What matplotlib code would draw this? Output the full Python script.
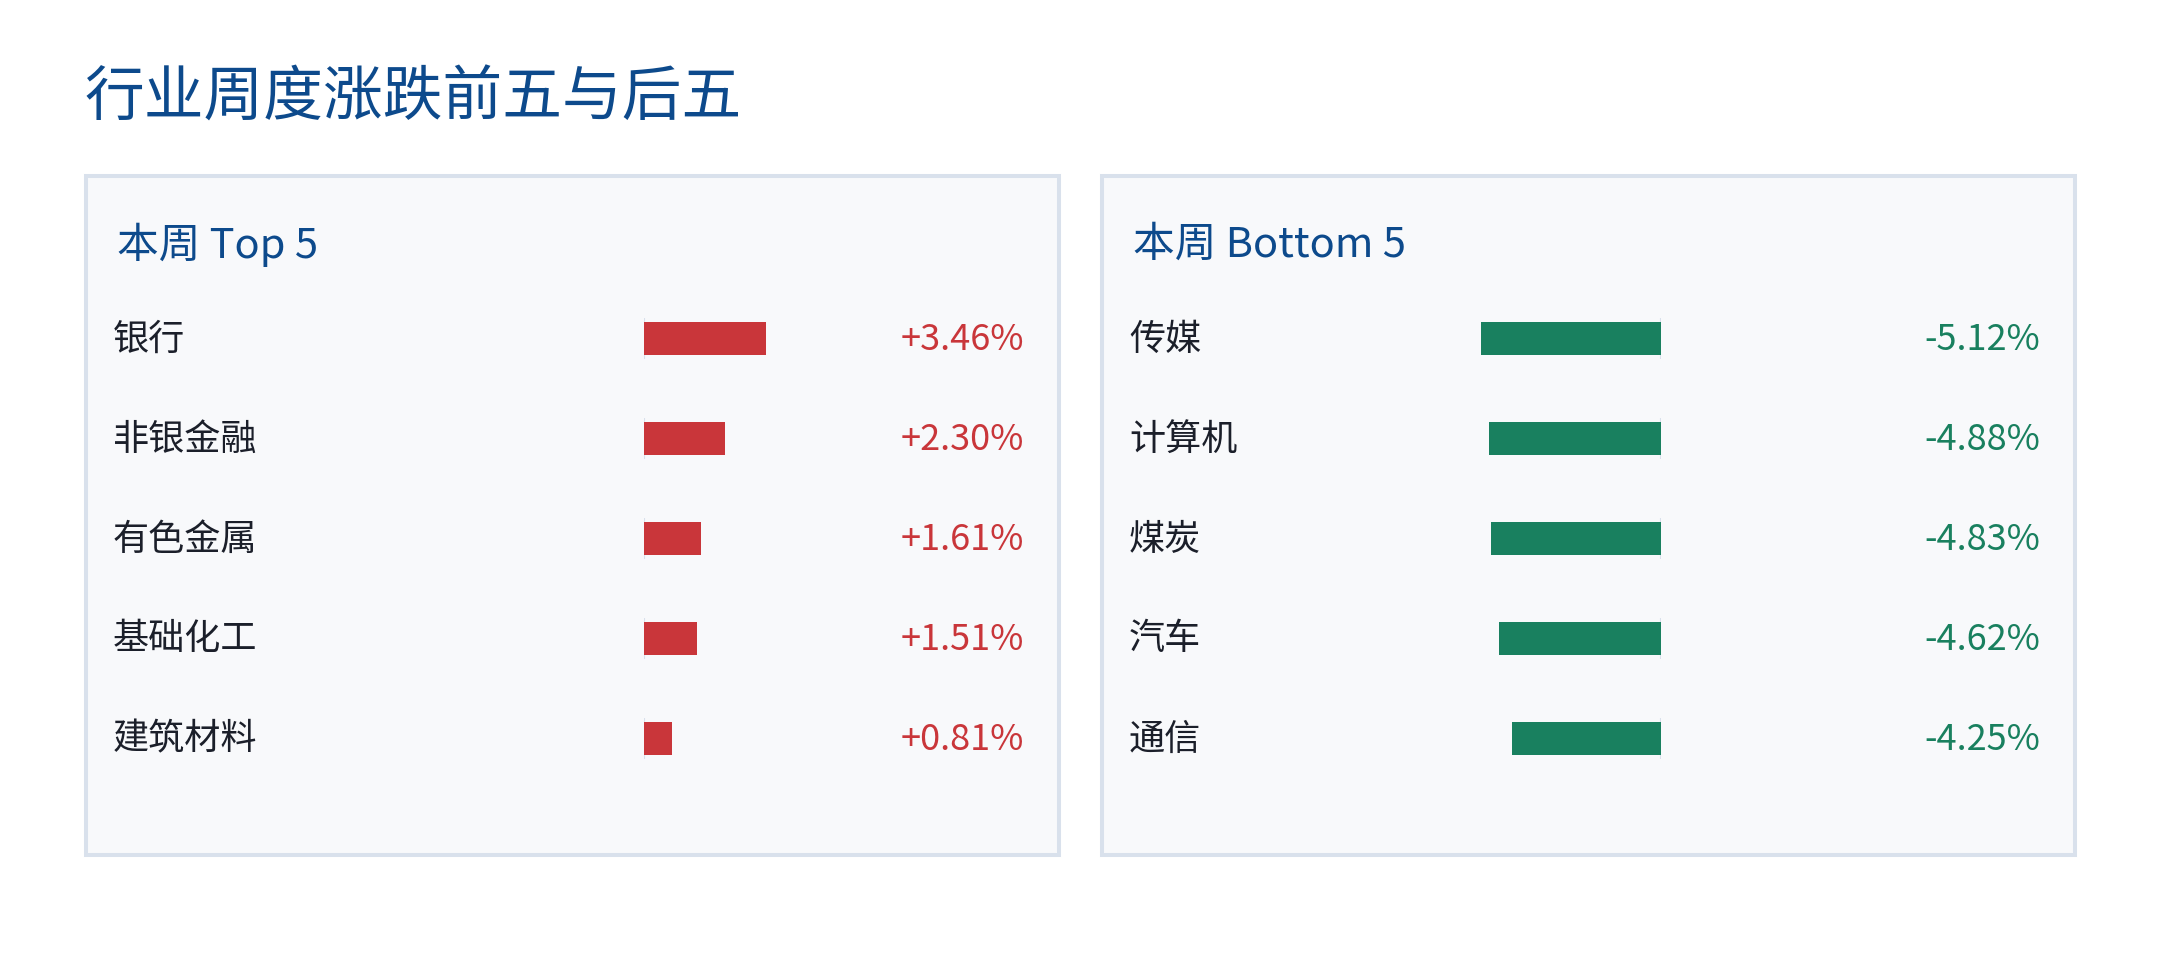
import matplotlib
matplotlib.use("Agg")
import matplotlib.pyplot as plt
from matplotlib.patches import Rectangle
from matplotlib.transforms import blended_transform_factory

plt.rcParams['font.family'] = ['Noto Sans CJK SC', 'DejaVu Sans']

# data
top_names = ['银行', '非银金融', '有色金属', '基础化工', '建筑材料']
top_values = [3.46, 2.30, 1.61, 1.51, 0.81]
bottom_names = ['传媒', '计算机', '煤炭', '汽车', '通信']
bottom_values = [-5.12, -4.88, -4.83, -4.62, -4.25]

title = '行业周度涨跌前五与后五'
panel_titles = ['本周 Top 5', '本周 Bottom 5']

BLUE = '#0d4a8c'
RED = '#c9363a'
GREEN = '#19805f'
INK = '#1b1f2a'
BORDER = '#d9e1ec'
PANEL_BG = '#f8f9fb'

W, H = 2160, 960
fig = plt.figure(figsize=(W / 100, H / 100), dpi=100)
fig.patch.set_facecolor('white')


def fx(px):
    return px / W


def fy(py):
    return 1 - py / H


fig.text(fx(84), fy(99), title, fontsize=43, color=BLUE, va='center', ha='left')

# scale shared by both panels (px per 1%)
max_abs = max(abs(v) for v in top_values + bottom_values)
bar_px = 180
row_h = 100
first_row = 338.5
n = len(top_values)

panels = [
    dict(x0=84, names=top_names, values=top_values, color=RED, zero=644, fmt='+{:.2f}%'),
    dict(x0=1100, names=bottom_names, values=bottom_values, color=GREEN, zero=1661, fmt='{:.2f}%'),
]

for k, p in enumerate(panels):
    x0 = p['x0']
    # panel box, kept under the bar axes
    fig.patches.append(Rectangle((fx(x0 + 2), fy(855)), fx(973), 679 / H,
                                 transform=fig.transFigure, facecolor=PANEL_BG,
                                 edgecolor=BORDER, linewidth=2.9, zorder=-5))
    fig.text(fx(x0 + 33), fy(245), panel_titles[k], fontsize=30, color=BLUE,
             va='center', ha='left')

    top_px = first_row - row_h / 2
    if p['values'][0] >= 0:
        left_px = p['zero']
        xlim = (0, max_abs)
    else:
        left_px = p['zero'] - bar_px
        xlim = (-max_abs, 0)
    ax = fig.add_axes([fx(left_px), fy(top_px + n * row_h), bar_px / W, n * row_h / H])
    ax.set_xlim(*xlim)
    ax.set_ylim(n - 0.5, -0.5)
    ax.axis('off')
    ax.patch.set_alpha(0)

    ys = list(range(n))
    ax.barh(ys, p['values'], height=0.33, color=p['color'], zorder=3)
    ax.vlines([0] * n, [y - 0.205 for y in ys], [y + 0.205 for y in ys],
              color=BORDER, linewidth=1.5, zorder=2)

    tr = blended_transform_factory(fig.transFigure, ax.transData)
    for y, name, v in zip(ys, p['names'], p['values']):
        ax.text(fx(x0 + 29), y + 0.01, name, transform=tr, fontsize=26, color=INK,
                va='center', ha='left', clip_on=False)
        ax.text(fx(x0 + 940), y + 0.01, p['fmt'].format(v), transform=tr, fontsize=26,
                color=p['color'], va='center', ha='right', clip_on=False)

fig.savefig('out.png', dpi=100, facecolor='white')
